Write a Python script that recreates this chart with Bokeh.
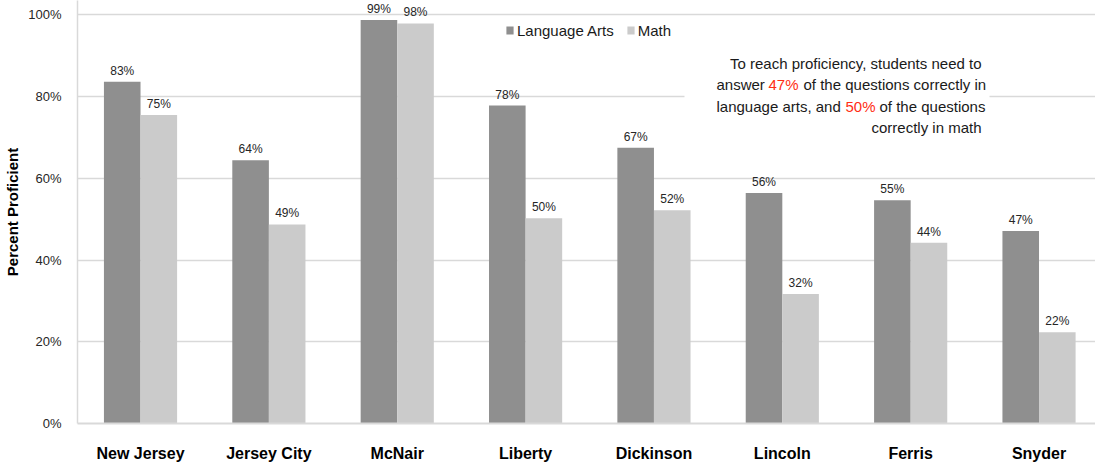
from bokeh.plotting import figure
from bokeh.models import (ColumnDataSource, Range1d, FixedTicker, Legend, LegendItem,
                          Label, BoxAnnotation)
from bokeh.embed import file_html
from bokeh.resources import INLINE

# ---- data ----
schools = ["New Jersey", "Jersey City", "McNair", "Liberty", "Dickinson", "Lincoln", "Ferris", "Snyder"]
language_arts = [83.6, 64.4, 98.7, 77.8, 67.5, 56.4, 54.6, 47.1]
math = [75.5, 48.7, 97.9, 50.2, 52.2, 31.7, 44.2, 22.3]
la_labels = ["83%", "64%", "99%", "78%", "67%", "56%", "55%", "47%"]
math_labels = ["75%", "49%", "98%", "50%", "52%", "32%", "44%", "22%"]
y_ticks = [0, 20, 40, 60, 80, 100]

FONT = "Liberation Sans"
DARK = "#8f8f8f"
LIGHT = "#cbcbcb"
GRID = "#d9d9d9"

W, H = 1095, 464
LEFT, BOTTOM = 77, 38
X0, X1 = -0.491, 7.44
Y0, Y1 = 0, 103.5
frame_w = W - LEFT
frame_h = H - BOTTOM

def sx(px):
    return X0 + (px - LEFT) / frame_w * (X1 - X0)

def sy(py):
    return Y1 - py / frame_h * (Y1 - Y0)

idx = list(range(len(schools)))
bw = 0.285
src = ColumnDataSource(dict(
    x_la=[i - bw / 2 for i in idx],
    x_m=[i + bw / 2 for i in idx],
    la=language_arts, m=math, la_lab=la_labels, m_lab=math_labels,
))

p = figure(width=W, height=H, output_backend="svg", toolbar_location=None,
           x_range=Range1d(X0, X1), y_range=Range1d(Y0, Y1),
           min_border_left=LEFT, min_border_right=0, min_border_top=0,
           min_border_bottom=BOTTOM)
p.outline_line_color = None
p.background_fill_color = "white"
p.border_fill_color = "white"

r_la = p.vbar(x="x_la", top="la", width=bw, source=src, fill_color=DARK, line_color=None)
r_m = p.vbar(x="x_m", top="m", width=bw, source=src, fill_color=LIGHT, line_color=None)

for xcol, ycol, tcol in (("x_la", "la", "la_lab"), ("x_m", "m", "m_lab")):
    p.text(x=xcol, y=ycol, text=tcol, source=src, text_align="center",
           text_baseline="middle", y_offset=-11, text_font_size="12px",
           text_color="#262626", text_font={"value": FONT})

# axes
p.yaxis.ticker = FixedTicker(ticks=y_ticks)
p.yaxis.major_label_overrides = {t: f"{t}%" for t in y_ticks}
p.yaxis.major_label_text_font = FONT
p.yaxis.major_label_text_font_size = "13px"
p.yaxis.major_label_text_color = "#262626"
p.yaxis.major_tick_line_color = None
p.yaxis.minor_tick_line_color = None
p.yaxis.axis_line_color = GRID
p.yaxis.axis_line_width = 1.5
p.yaxis.major_label_standoff = 10
p.yaxis.axis_label = "Percent Proficient"
p.yaxis.axis_label_text_font = FONT
p.yaxis.axis_label_text_font_style = "bold"
p.yaxis.axis_label_text_font_size = "15px"
p.yaxis.axis_label_text_color = "black"
p.yaxis.axis_label_standoff = 4

p.xaxis.ticker = FixedTicker(ticks=idx)
p.xaxis.major_label_overrides = {i: s for i, s in enumerate(schools)}
p.xaxis.major_label_text_font = FONT
p.xaxis.major_label_text_font_style = "bold"
p.xaxis.major_label_text_font_size = "16px"
p.xaxis.major_label_text_color = "black"
p.xaxis.major_tick_line_color = None
p.xaxis.minor_tick_line_color = None
p.xaxis.axis_line_color = GRID
p.xaxis.axis_line_width = 2
p.xaxis.major_label_standoff = 15

p.xgrid.grid_line_color = None
p.ygrid.grid_line_color = GRID
p.ygrid.grid_line_width = 1.5
p.ygrid.ticker = FixedTicker(ticks=y_ticks[1:])

# white box behind annotation text (interrupts gridline)
p.add_layout(BoxAnnotation(left=sx(684), right=sx(989), top=sy(45), bottom=sy(140),
                           fill_color="white", fill_alpha=1.0, line_color=None,
                           level="underlay"))

# legend
legend = Legend(items=[LegendItem(label="Language Arts", renderers=[r_la]),
                       LegendItem(label="Math", renderers=[r_m])],
                orientation="horizontal", location=(428, frame_h - 43),
                margin=0, padding=0, spacing=12, glyph_width=9, glyph_height=10,
                label_standoff=3, label_height=20, label_text_font=FONT,
                label_text_font_size="15px", label_text_color="#1a1a1a",
                border_line_color=None, background_fill_alpha=0)
p.add_layout(legend)

# annotation text
def lab(text, px, py, align="left", color="#1a1a1a"):
    p.add_layout(Label(x=sx(px), y=sy(py), text=text, text_align=align,
                       text_baseline="middle", text_font=FONT, text_font_size="15px",
                       text_color=color))

RED = "#ff2d14"
lab("To reach proficiency, students need to", 981, 63, "right")
lab("answer", 716, 85)
lab("47%", 768, 85, color=RED)
lab("of the questions correctly in", 803, 85)
lab("language arts, and", 716, 107)
lab("50%", 845, 107, color=RED)
lab("of the questions", 879, 107)
lab("correctly in math", 981, 128, "right")

open("out.html", "w").write(file_html(p, INLINE))
